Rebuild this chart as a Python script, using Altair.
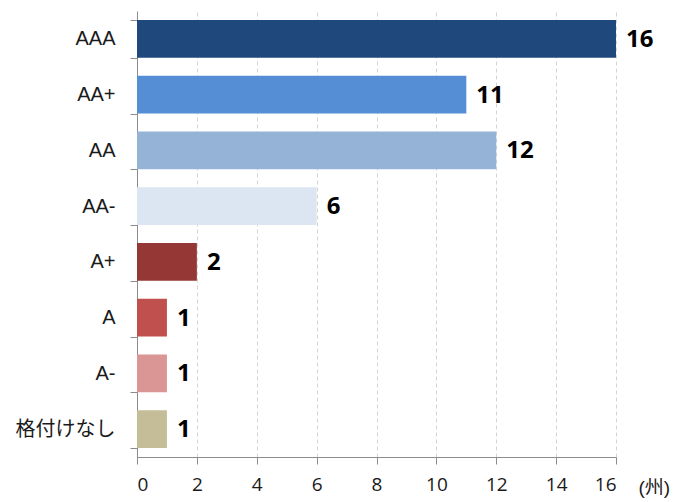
import altair as alt
import pandas as pd

categories = ["AAA", "AA+", "AA", "AA-", "A+", "A", "A-", "格付けなし"]
counts = [16, 11, 12, 6, 2, 1, 1, 1]
colors = ["#1F497D", "#558ED5", "#95B3D7", "#DCE6F2", "#953735", "#C0504D", "#D99694", "#C4BD97"]
x_ticks = [0, 2, 4, 6, 8, 10, 12, 14, 16]

df = pd.DataFrame({"cat": categories, "n": counts, "color": colors})

font = "Liberation Sans, Noto Sans CJK JP"
numfont = "Open Sans, Noto Sans CJK JP"

y_axis = alt.Axis(
    title=None,
    tickBand="extent",
    tickSize=7,
    tickColor="#8c8c8c",
    domainColor="#8c8c8c",
    labelFont=font,
    labelFontSize=20,
    labelColor="#1a1a1a",
    labelPadding=15,
    grid=False,
)

x_axis = alt.Axis(
    values=x_ticks,
    title="(州)",
    titleFont=font,
    titleFontSize=19,
    titleFontWeight="normal",
    titleColor="#1a1a1a",
    titleX=501,
    titleY=30,
    titleAlign="left",
    titleBaseline="middle",
    titleAngle=0,
    tickSize=7,
    tickColor="#8c8c8c",
    domainColor="#8c8c8c",
    labelFont=numfont,
    labelFontSize=19,
    labelColor="#1a1a1a",
    labelBaseline="top",
    labelPadding=11,
    grid=True,
    gridColor="#d4d4d4",
    gridDash=[4, 3],
    gridWidth=1,
)

y_scale = alt.Scale(paddingInner=0.32, paddingOuter=0.16)
x_scale = alt.Scale(domain=[0, 16], nice=False)

bars = alt.Chart(df).mark_bar().encode(
    y=alt.Y("cat:N", sort=categories, scale=y_scale, axis=y_axis),
    x=alt.X("n:Q", scale=x_scale, axis=x_axis),
    color=alt.Color("color:N", scale=None),
)

labels = alt.Chart(df).mark_text(
    align="left", baseline="middle", dx=10, dy=1, fontSize=24, fontWeight="bold", font=numfont, color="#000000"
).encode(
    y=alt.Y("cat:N", sort=categories, scale=y_scale, axis=y_axis),
    x=alt.X("n:Q", scale=x_scale, axis=x_axis),
    text=alt.Text("n:Q"),
)

chart = (
    alt.layer(bars, labels)
    .properties(
        width=479,
        height=446,
        autosize=alt.AutoSizeParams(type="none"),
        padding={"left": 129, "top": 3, "right": 56, "bottom": 44},
    )
    .configure_view(stroke=None)
)

chart.save("out.html", embed_options={"renderer": "svg", "actions": False})
